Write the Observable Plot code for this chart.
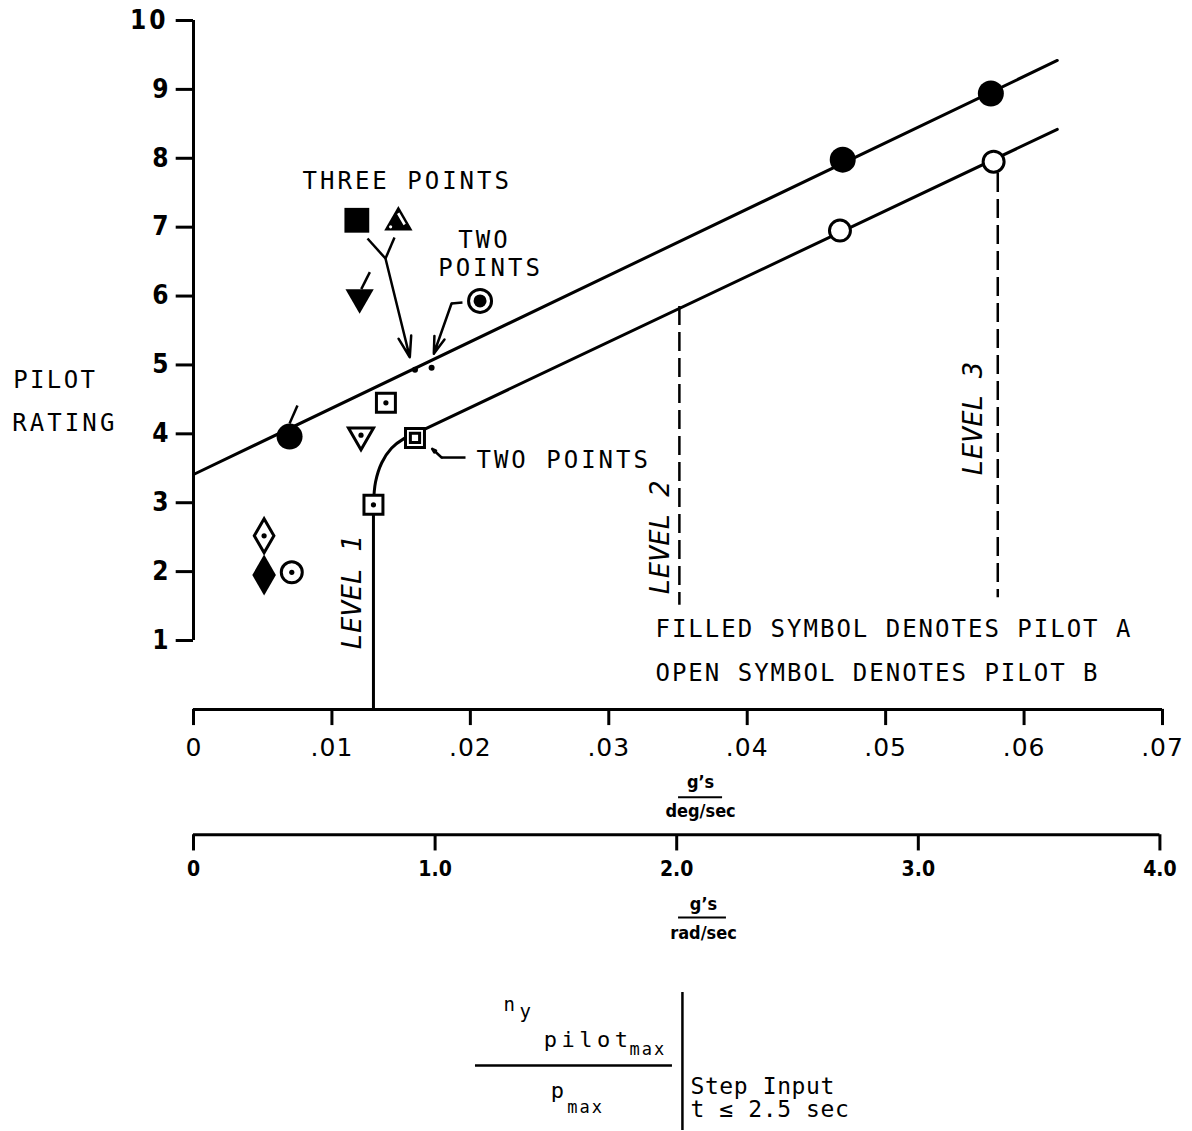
<!DOCTYPE html>
<html><head><meta charset="utf-8">
<script src="https://cdn.jsdelivr.net/npm/d3@7"></script>
<script src="https://cdn.jsdelivr.net/npm/@observablehq/plot@0.6"></script>
<style>body{margin:0;background:#fff} svg{display:block}</style>
</head><body><div id="chart"></div>
<script>
// ---------- data ----------
const yTicks = [1,2,3,4,5,6,7,8,9,10];
const xTicksDeg = [0,0.01,0.02,0.03,0.04,0.05,0.06,0.07];
const xTickLabelsDeg = ["0",".01",".02",".03",".04",".05",".06",".07"];
const xTicksRad = [0,1,2,3,4];
const xTickLabelsRad = ["0","1.0","2.0","3.0","4.0"];

// Pilot A (filled symbols)
const pilotACircles = [{x:0.00694,y:3.96},{x:0.0469,y:7.98},{x:0.0576,y:8.94}];
const pilotASquares = [{x:0.0118,y:7.1}];
const pilotATrianglesDown = [{x:0.0120,y:5.98}];
const pilotADiamonds = [{x:0.0051,y:1.95}];
const halfFilledTriangles = [{x:0.0148,y:7.07}];
const bullseyes = [{x:0.0207,y:5.93}];
// Pilot B (open symbols)
const pilotBCircles = [{x:0.0467,y:6.95},{x:0.0578,y:7.95}];
const pilotBSquares = [{x:0.0130,y:2.97},{x:0.0139,y:4.45}];
const doubleSquares = [{x:0.0160,y:3.94}];
const pilotBTrianglesDown = [{x:0.0121,y:3.98}];
const pilotBDiamonds = [{x:0.0051,y:2.52}];
const pilotBDotCircles = [{x:0.0071,y:1.99}];
const coincidentPoints = [{x:0.0160,y:4.93},{x:0.0172,y:4.96}];

// boundary lines
const upperFit = [{x:0,y:3.41},{x:0.0624,y:9.42}];
const level1Stem = [{x:0.0130,y:0},{x:0.0130,y:2.97}];
const level1Knee = [{x:0.0130,y:2.97},{x:0.01315,y:3.3},{x:0.0136,y:3.58},{x:0.0143,y:3.79},{x:0.0152,y:3.93},{x:0.0161,y:4.01}];
const lowerFit = [{x:0.0161,y:4.01},{x:0.0624,y:8.42}];
const levelBounds = [{x:0.0351,bottom:1.51,top:5.85},{x:0.0581,bottom:1.62,top:7.78}];
const levelNames = ["LEVEL 1","LEVEL 2","LEVEL 3"];

// ---------- styling helpers ----------
const mono = "'DejaVu Sans Mono', monospace";
const narrow = "'Liberation Sans Narrow', 'DejaVu Sans Condensed', sans-serif";
const sans = "'DejaVu Sans', sans-serif";

const halfTriInset = {
  draw(ctx, size) {
    const h = Math.sqrt(size / (3 * Math.sqrt(3)));
    const d = [0.5, Math.sqrt(3) / 2], n = [Math.sqrt(3) / 2, -0.5];
    const dist = h - 3.8, cx = n[0] * dist, cy = n[1] * dist, w = 1.3, a = -8, b = 5;
    ctx.moveTo(cx + d[0]*a + n[0]*w, cy + d[1]*a + n[1]*w);
    ctx.lineTo(cx + d[0]*b + n[0]*w, cy + d[1]*b + n[1]*w);
    ctx.lineTo(cx + d[0]*b - n[0]*w, cy + d[1]*b - n[1]*w);
    ctx.lineTo(cx + d[0]*a - n[0]*w, cy + d[1]*a - n[1]*w);
    ctx.closePath();
    const px = -h * 0.95, py = h * 0.55;
    ctx.moveTo(px + 1.6, py);
    ctx.arc(px, py, 1.6, 0, 2 * Math.PI);
  }
};

const axis1Y = 0, axis2Y = -1.82, tickLen = 0.235;
const open = {fill:"white", stroke:"black", strokeWidth:3};
const annot = {fontFamily: mono, fontSize: 24, fill: "black"};

const chart = Plot.plot({
  width: 1192, height: 1131, margin: 0,
  x: {domain:[0,0.07], range:[193,1162], axis:null},
  y: {domain:[1,10], range:[640,20], axis:null},
  style: {background:"white", color:"black"},
  marks: [
    // Y axis
    Plot.ruleX([0], {y1:1, y2:10, strokeWidth:3}),
    Plot.ruleY(yTicks, {y:d=>d, x1:-0.00125, x2:0, strokeWidth:3}),
    Plot.text(yTicks, {x:0, y:d=>d, dx:-25, textAnchor:"end", text:d=>String(d), fontFamily:narrow, fontWeight:"bold", fontSize:26}),
    // X axis (g's per deg/sec)
    Plot.ruleY([axis1Y], {x1:0, x2:0.07, strokeWidth:3}),
    Plot.ruleX(xTicksDeg, {x:d=>d, y1:axis1Y, y2:axis1Y - tickLen, strokeWidth:3}),
    Plot.text(xTicksDeg, {x:d=>d, y:axis1Y, dy:39, text:(d,i)=>xTickLabelsDeg[i], fontFamily:sans, fontSize:25}),
    Plot.text(["g’s"], {x:0.03663, y:axis1Y, dy:73, fontFamily:narrow, fontWeight:"bold", fontSize:18}),
    Plot.ruleY([axis1Y - 1.277], {x1:0.03504, x2:0.03822, strokeWidth:2}),
    Plot.text(["deg/sec"], {x:0.03663, y:axis1Y, dy:102, fontFamily:narrow, fontWeight:"bold", fontSize:18}),
    // second X axis (g's per rad/sec)
    Plot.ruleY([axis2Y], {x1:0, x2:4 * Math.PI / 180, strokeWidth:3}),
    Plot.ruleX(xTicksRad, {x:d=>d * Math.PI / 180, y1:axis2Y, y2:axis2Y - tickLen, strokeWidth:3}),
    Plot.text(xTicksRad, {x:d=>d * Math.PI / 180, y:axis2Y, dy:34, text:(d,i)=>xTickLabelsRad[i], fontFamily:narrow, fontWeight:"bold", fontSize:21}),
    Plot.text(["g’s"], {x:0.03684, y:axis2Y, dy:69, fontFamily:narrow, fontWeight:"bold", fontSize:18}),
    Plot.ruleY([axis2Y - 1.2], {x1:0.03504, x2:0.0385, strokeWidth:2}),
    Plot.text(["rad/sec"], {x:0.03684, y:axis2Y, dy:98, fontFamily:narrow, fontWeight:"bold", fontSize:18}),

    // lines
    Plot.line(upperFit, {x:"x", y:"y", strokeWidth:3}),
    Plot.line(level1Stem, {x:"x", y:"y", strokeWidth:3}),
    Plot.line(level1Knee, {x:"x", y:"y", strokeWidth:3, curve:"catmull-rom"}),
    Plot.line(lowerFit, {x:"x", y:"y", strokeWidth:3}),
    Plot.ruleX(levelBounds, {x:"x", y1:"top", y2:"bottom", strokeWidth:2.5, strokeDasharray:"19,7"}),

    // leaders
    Plot.link([{x1:0.01257,y1:6.835,x2:0.01387,y2:6.545},{x1:0.01452,y1:6.85,x2:0.01387,y2:6.545},
               {x1:0.00751,y1:4.411,x2:0.00694,y2:4.15},{x1:0.01274,y1:6.347,x2:0.01212,y2:6.10},
               {x1:0.01943,y1:5.906,x2:0.01864,y2:5.892},{x1:0.01965,y1:3.656,x2:0.01792,y2:3.656}],
              {x1:"x1", y1:"y1", x2:"x2", y2:"y2", strokeWidth:2.5}),
    Plot.arrow([{x1:0.01387,y1:6.545,x2:0.015625,y2:5.112},{x1:0.01864,y1:5.892,x2:0.01736,y2:5.162},
                {x1:0.01792,y1:3.656,x2:0.01724,y2:3.783}],
               {x1:"x1", y1:"y1", x2:"x2", y2:"y2", strokeWidth:2.5, headLength:13, headAngle:35}),

    // Pilot A symbols
    Plot.dot(pilotACircles, {x:"x", y:"y", r:13, fill:"black"}),
    Plot.dot(pilotASquares, {x:"x", y:"y", symbol:"square", r:14, fill:"black"}),
    Plot.dot(pilotATrianglesDown, {x:"x", y:"y", symbol:"triangle", rotate:180, r:10.5, fill:"black"}),
    Plot.dot(pilotADiamonds, {x:"x", y:"y", symbol:"diamond", r:12.4, fill:"black"}),
    Plot.dot(halfFilledTriangles, {x:"x", y:"y", symbol:"triangle", r:10.5, fill:"black"}),
    Plot.dot(halfFilledTriangles, {x:"x", y:"y", symbol:halfTriInset, r:10.5, fill:"white"}),
    Plot.dot(bullseyes, {x:"x", y:"y", r:11.5, ...open}),
    Plot.dot(bullseyes, {x:"x", y:"y", r:6.5, fill:"black"}),
    // Pilot B symbols
    Plot.dot(pilotBCircles, {x:"x", y:"y", r:10.5, ...open}),
    Plot.dot(pilotBSquares, {x:"x", y:"y", symbol:"square", r:10.7, ...open}),
    Plot.dot(doubleSquares, {x:"x", y:"y", symbol:"square", r:10.7, ...open}),
    Plot.dot(doubleSquares, {x:"x", y:"y", symbol:"square", r:5.2, ...open}),
    Plot.dot(pilotBTrianglesDown, {x:"x", y:"y", symbol:"triangle", rotate:180, r:9.3, ...open}),
    Plot.dot(pilotBDiamonds, {x:"x", y:"y", symbol:"diamond", r:10.3, ...open}),
    Plot.dot(pilotBDotCircles, {x:"x", y:"y", r:10.5, ...open}),
    Plot.dot([...pilotBSquares, ...pilotBTrianglesDown, ...pilotBDiamonds, ...pilotBDotCircles], {x:"x", y:"y", r:2.6, fill:"black"}),
    Plot.dot(coincidentPoints, {x:"x", y:"y", r:3, fill:"black"}),

    // annotations
    Plot.text(["THREE POINTS"], {x:0.01544, y:7.663, ...annot}),
    Plot.text(["TWO"], {x:0.02102, y:6.806, ...annot}),
    Plot.text(["POINTS"], {x:0.02146, y:6.407, ...annot}),
    Plot.text(["TWO POINTS"], {x:0.02044, y:3.61, textAnchor:"start", ...annot}),
    Plot.text(["FILLED SYMBOL DENOTES PILOT A"], {x:0.03337, y:1.16, textAnchor:"start", ...annot}),
    Plot.text(["OPEN SYMBOL DENOTES PILOT B"], {x:0.03337, y:0.528, textAnchor:"start", ...annot}),
    Plot.text(["PILOT"], {x:-0.01303, y:4.774, textAnchor:"start", ...annot}),
    Plot.text(["RATING"], {x:-0.01310, y:4.150, textAnchor:"start", ...annot}),
    Plot.text(levelNames, {x:[0.01149,0.03374,0.05635], y:[1.697,2.495,4.222], text:d=>d, rotate:-90, fontFamily:mono, fontStyle:"italic", fontSize:27}),

    // formula
    Plot.text(["n"], {x:0.02240, y:-4.371, textAnchor:"start", lineAnchor:"bottom", fontFamily:mono, fontSize:19}),
    Plot.text(["y"], {x:0.02355, y:-4.473, textAnchor:"start", lineAnchor:"bottom", fontFamily:mono, fontSize:19}),
    Plot.text(["pilot"], {x:0.02530, y:-4.894, textAnchor:"start", lineAnchor:"bottom", fontFamily:mono, fontSize:22}),
    Plot.text(["max"], {x:0.03150, y:-5.010, textAnchor:"start", lineAnchor:"bottom", fontFamily:mono, fontSize:17}),
    Plot.ruleY([-5.169], {x1:0.02037, x2:0.0346, strokeWidth:2.5}),
    Plot.text(["p"], {x:0.02580, y:-5.634, textAnchor:"start", lineAnchor:"bottom", fontFamily:mono, fontSize:22}),
    Plot.text(["max"], {x:0.02700, y:-5.852, textAnchor:"start", lineAnchor:"bottom", fontFamily:mono, fontSize:17}),
    Plot.ruleX([0.03532], {y1:-4.11, y2:-6.113, strokeWidth:2.5}),
    Plot.text(["Step Input"], {x:0.0359, y:-5.576, textAnchor:"start", lineAnchor:"bottom", fontFamily:mono, fontSize:23}),
    Plot.text(["t ≤ 2.5 sec"], {x:0.0359, y:-5.924, textAnchor:"start", lineAnchor:"bottom", fontFamily:mono, fontSize:23})
  ]
});

// letter spacing for the stencil-style lettering
const spacing = {"THREE POINTS":3, "TWO":3, "POINTS":3, "TWO POINTS":3,
  "FILLED SYMBOL DENOTES PILOT A":2, "OPEN SYMBOL DENOTES PILOT B":2,
  "PILOT":2.4, "RATING":3.1, "10":3, "pilot":4.5, "max":2, "Step Input":0.6, "t ≤ 2.5 sec":0.6,
  ".01":1,".02":1,".03":1,".04":1,".05":1,".06":1,".07":1};
d3.select(chart).selectAll("text").each(function() {
  const s = spacing[this.textContent];
  if (s != null) this.style.letterSpacing = s + "px";
});
document.getElementById("chart").appendChild(chart);
</script>
</body></html>
